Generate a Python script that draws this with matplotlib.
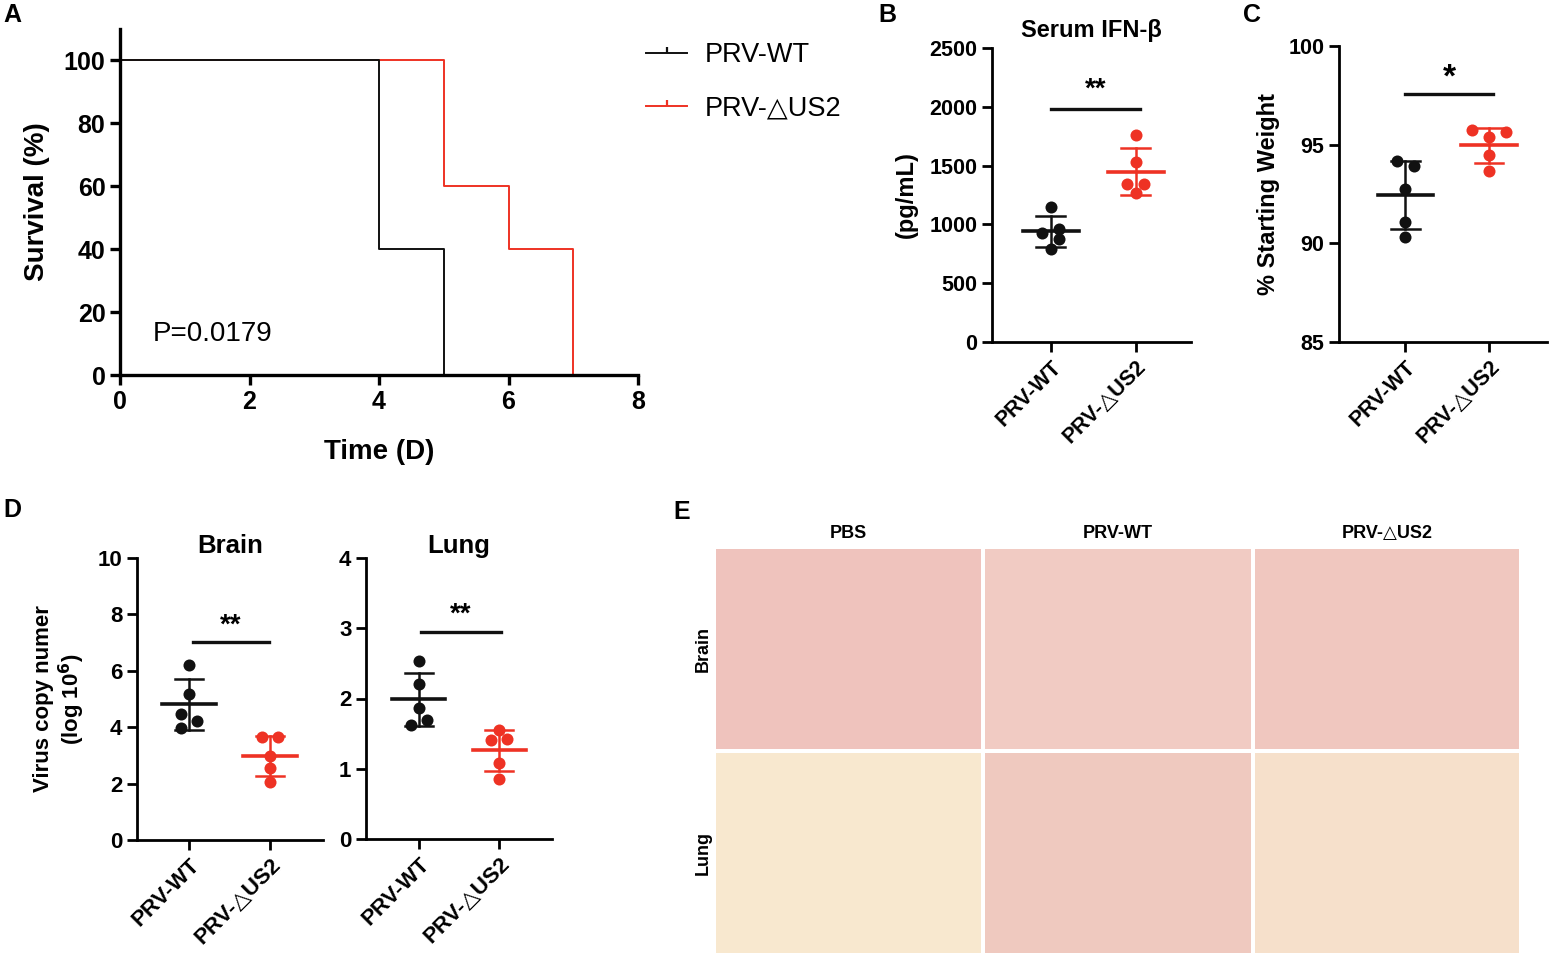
import numpy as np
import matplotlib
matplotlib.use("Agg")
import matplotlib.pyplot as plt
from matplotlib.lines import Line2D

plt.rcParams["font.family"] = ["Liberation Sans", "DejaVu Sans"]

RED = "#ee3224"
BLACK = "#111111"
W, H = 1549, 959

# ------------------------------------------------------------------
# Data
# ------------------------------------------------------------------
groups = ["PRV-WT", "PRV-\u25b3US2"]

# A: Kaplan-Meier survival
wt_days = [0, 4, 5]
wt_surv = [100, 40, 0]
dus2_days = [0, 5, 6, 7]
dus2_surv = [100, 60, 40, 0]
p_value = "P=0.0179"

# B: serum IFN-beta (pg/mL)
ifn_wt = [1145, 929, 957, 880, 795]
ifn_wt_dx = [0, -0.1, 0.1, 0.1, 0]
ifn_dus2 = [1761, 1534, 1340, 1340, 1264]
ifn_dus2_dx = [0, 0, -0.1, 0.1, 0]

# C: % starting weight
wt_weight = [94.19, 93.92, 92.75, 91.06, 90.32]
wt_weight_dx = [-0.1, 0.1, 0, 0, 0]
dus2_weight = [95.73, 95.64, 95.39, 94.46, 93.67]
dus2_weight_dx = [-0.2, 0.2, 0, 0, 0]

# D: virus copy number (log 10^6)
brain_wt = [6.20, 5.19, 4.46, 4.23, 3.96]
brain_wt_dx = [0, 0, -0.1, 0.1, -0.1]
brain_dus2 = [3.66, 3.66, 2.99, 2.54, 2.07]
brain_dus2_dx = [-0.1, 0.1, 0, 0, 0]
lung_wt = [2.54, 2.20, 1.87, 1.70, 1.62]
lung_wt_dx = [0, 0, 0, 0.1, -0.1]
lung_dus2 = [1.55, 1.41, 1.42, 1.08, 0.85]
lung_dus2_dx = [0, -0.1, 0.1, 0, 0]

# E: histology panels (flat tone of each micrograph)
histo_cols = ["PBS", "PRV-WT", "PRV-\u25b3US2"]
histo_rows = ["Brain", "Lung"]
histo_tones = [["#efc3bd", "#f1cbc3", "#f0c7bf"],
               ["#f8e8cf", "#efc9bf", "#f6e0cb"]]


def box(x0, y0, x1, y1):
    """pixel box (top-left origin) -> figure rect"""
    return [x0 / W, 1 - y1 / H, (x1 - x0) / W, (y1 - y0) / H]


def style_axis(ax, lw=2.0, fs=15.5):
    for s in ["top", "right"]:
        ax.spines[s].set_visible(False)
    for s in ["left", "bottom"]:
        ax.spines[s].set_linewidth(lw)
    ax.tick_params(width=lw, length=7, labelsize=fs, direction="out")
    for lab in ax.get_yticklabels():
        lab.set_fontweight("bold")


def dot_panel(ax, a, a_dx, b, b_dx, fs):
    for i, (vals, dx, col) in enumerate([(a, a_dx, BLACK), (b, b_dx, RED)]):
        vals = np.array(vals)
        m, sd = vals.mean(), vals.std(ddof=1)
        ax.scatter(i + np.array(dx), vals, s=75, color=col, zorder=3, linewidths=0)
        ax.plot([i - 0.33, i + 0.33], [m, m], color=col, lw=2.6)
        ax.plot([i, i], [m - sd, m + sd], color=col, lw=1.8)
        for v in (m - sd, m + sd):
            ax.plot([i - 0.17, i + 0.17], [v, v], color=col, lw=1.8)
    ax.set_xticks([0, 1])
    ax.set_xticklabels(groups, rotation=45, ha="right", rotation_mode="anchor",
                       fontweight="bold", fontsize=fs)


def sig(ax, x0, x1, y, ystar, label, fs=20):
    ax.plot([x0, x1], [y, y], color=BLACK, lw=2.4)
    ax.text((x0 + x1) / 2, ystar, label, ha="center", va="center",
            fontsize=fs, fontweight="bold")


fig = plt.figure(figsize=(W / 100, H / 100), dpi=100)

# ------------------------------------------------------------------
# A
# ------------------------------------------------------------------
ax = fig.add_axes(box(120, 29, 638, 375))
ax.plot(dus2_days, dus2_surv, drawstyle="steps-post", color=RED, lw=1.4)
ax.plot(wt_days, wt_surv, drawstyle="steps-post", color=BLACK, lw=1.4)
ax.set_xlim(0, 8)
ax.set_ylim(0, 110)
ax.set_xticks(range(0, 9, 2))
ax.set_yticks(range(0, 101, 20))
style_axis(ax, lw=2.4, fs=18)
for lab in ax.get_xticklabels():
    lab.set_fontweight("bold")
ax.set_ylabel("Survival (%)", fontsize=20, fontweight="bold", labelpad=10)
ax.set_xlabel("Time (D)", fontsize=20, fontweight="bold", labelpad=18)
ax.text(0.5, 13, p_value, fontsize=20, va="center")
handles = [Line2D([0], [0], color=BLACK, lw=1.4, marker=2, markersize=4.5, markeredgewidth=1.6),
           Line2D([0], [0], color=RED, lw=1.4, marker=2, markersize=4.5, markeredgewidth=1.6)]
fig.legend(handles, groups, loc="upper left", bbox_to_anchor=(622 / W, 1 - 18 / H),
           frameon=False, fontsize=19.5, handlelength=1.5, labelspacing=1.0,
           handletextpad=0.65)

# ------------------------------------------------------------------
# B
# ------------------------------------------------------------------
ax = fig.add_axes(box(992, 48, 1191, 342))
dot_panel(ax, ifn_wt, ifn_wt_dx, ifn_dus2, ifn_dus2_dx, fs=15.5)
ax.set_xlim(-0.69, 1.65)
ax.set_ylim(0, 2500)
ax.set_yticks(range(0, 2501, 500))
style_axis(ax)
sig(ax, 0, 1.05, 1982, 2150, "**")
ax.set_ylabel("(pg/mL)", fontsize=17, fontweight="bold", labelpad=8)
ax.set_title("Serum IFN-\u03b2", fontsize=17, fontweight="bold", pad=8)

# ------------------------------------------------------------------
# C
# ------------------------------------------------------------------
ax = fig.add_axes(box(1339, 46, 1547, 342))
dot_panel(ax, wt_weight, wt_weight_dx, dus2_weight, dus2_weight_dx, fs=15.5)
ax.set_xlim(-0.79, 1.69)
ax.set_ylim(85, 100)
ax.set_yticks(range(85, 101, 5))
style_axis(ax)
sig(ax, 0, 1.05, 97.58, 98.35, "*", fs=24)
ax.set_ylabel("% Starting Weight", fontsize=17, fontweight="bold", labelpad=6)

# ------------------------------------------------------------------
# D
# ------------------------------------------------------------------
ax = fig.add_axes(box(137, 558, 323, 840))
dot_panel(ax, brain_wt, brain_wt_dx, brain_dus2, brain_dus2_dx, fs=16)
ax.set_xlim(-0.64, 1.65)
ax.set_ylim(0, 10)
ax.set_yticks(range(0, 11, 2))
style_axis(ax, fs=16)
sig(ax, 0.05, 0.98, 7.03, 7.6, "**")
ax.set_title("Brain", fontsize=18.5, fontweight="bold", pad=2)
ax.set_ylabel("Virus copy numer\n(log 10$^{\\mathbf{6}}$)", fontsize=16,
              fontweight="bold", labelpad=8, linespacing=1.1)

ax = fig.add_axes(box(366, 558, 552, 839))
dot_panel(ax, lung_wt, lung_wt_dx, lung_dus2, lung_dus2_dx, fs=16)
ax.set_xlim(-0.66, 1.66)
ax.set_ylim(0, 4)
ax.set_yticks(range(0, 5))
style_axis(ax, fs=16)
sig(ax, 0.02, 1.03, 2.94, 3.2, "**")
ax.set_title("Lung", fontsize=18.5, fontweight="bold", pad=2)

# ------------------------------------------------------------------
# E
# ------------------------------------------------------------------
col_x = [(716, 981), (985, 1251), (1255, 1519)]
row_y = [(549, 749), (753, 953)]
for r, (y0, y1) in enumerate(row_y):
    for c, (x0, x1) in enumerate(col_x):
        ax = fig.add_axes(box(x0, y0, x1, y1))
        ax.set_facecolor(histo_tones[r][c])
        ax.set_xticks([])
        ax.set_yticks([])
        for s in ax.spines.values():
            s.set_visible(False)
    fig.text(703 / W, 1 - (y0 + y1) / 2 / H, histo_rows[r], rotation=90,
             ha="center", va="center", fontsize=13, fontweight="bold")
for c, (x0, x1) in enumerate(col_x):
    fig.text((x0 + x1) / 2 / W, 1 - 533 / H, histo_cols[c], ha="center",
             va="center", fontsize=13, fontweight="bold")

# panel letters
for letter, x, y in [("A", 12, 15), ("B", 887, 15), ("C", 1252, 15),
                     ("D", 12, 510), ("E", 682, 512)]:
    fig.text(x / W, 1 - y / H, letter, ha="center", va="center",
             fontsize=18, fontweight="bold")

fig.savefig("out.png", dpi=100)
